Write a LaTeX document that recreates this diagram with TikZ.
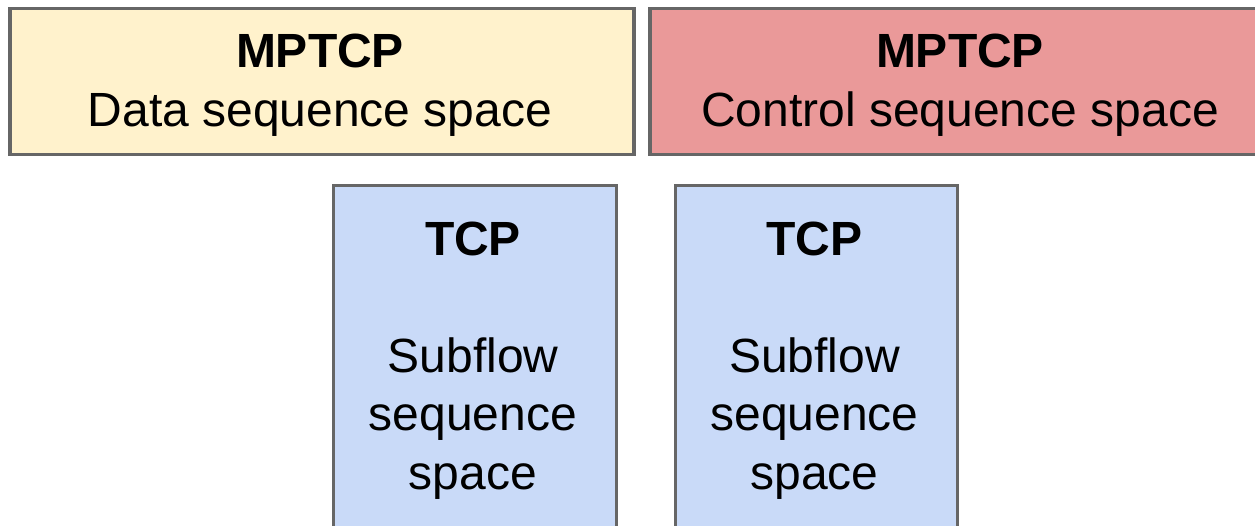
\documentclass[tikz,border=0pt]{standalone}
\usepackage{fontspec}
\setmainfont{Liberation Sans}
\definecolor{mpyellow}{HTML}{FFF2CC}
\definecolor{mpred}{HTML}{EA9999}
\definecolor{tcpblue}{HTML}{C9DAF8}
\definecolor{bordergray}{HTML}{666666}
\begin{document}
\begin{tikzpicture}[x=1pt,y=-1pt,
  box/.style={draw=bordergray, line width=3.5pt, rectangle, inner sep=0pt, anchor=north west},
  lbl/.style={font=\fontsize{48}{58.5}\selectfont, align=center, anchor=base, inner sep=0pt}]
\useasboundingbox (0,0) rectangle (1255,525);
\clip (0,0) rectangle (1255,525);
\fill[white] (0,0) rectangle (1255,525);
\node[box, fill=mpyellow, minimum width=624pt, minimum height=146pt] (data) at (8,6.5) {};
\node[box, fill=mpred, minimum width=624pt, minimum height=146pt] (ctrl) at (648,6.5) {};
\node[box, fill=tcpblue, minimum width=283pt, minimum height=400pt] (sub1) at (331.5,183.5) {};
\node[box, fill=tcpblue, minimum width=282pt, minimum height=400pt] (sub2) at (673.5,183.5) {};
\node[lbl] (datatext) at (320,126) {\textbf{MPTCP}\\Data sequence space};
\node[lbl] (ctrltext) at (960,126) {\textbf{MPTCP}\\Control sequence space};
\node[lbl] (sub1text) at (473,489) {\textbf{TCP}\\[58.5pt]Subflow\\sequence\\space};
\node[lbl] (sub2text) at (814.5,489) {\textbf{TCP}\\[58.5pt]Subflow\\sequence\\space};
\end{tikzpicture}
\end{document}
